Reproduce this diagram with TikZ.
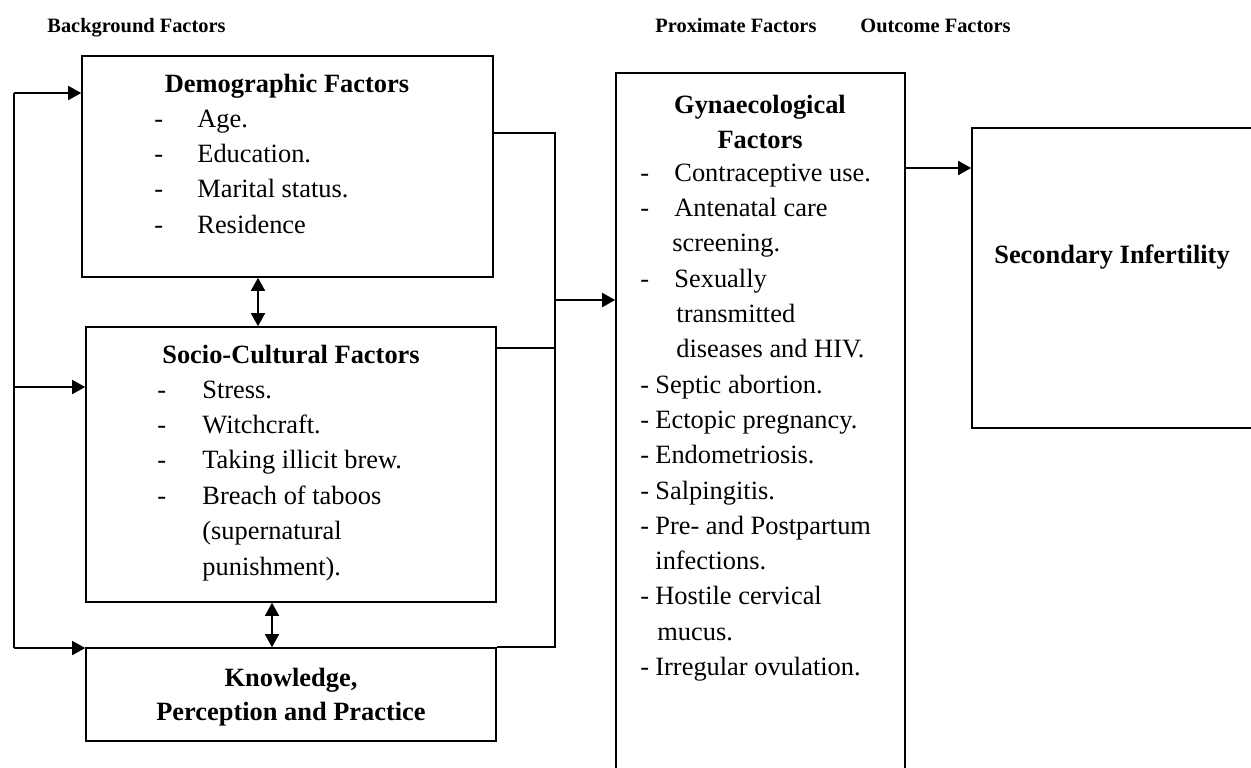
\documentclass[tikz,border=0pt]{standalone}
\usepackage{fontspec}
\setmainfont{Liberation Serif}
\usetikzlibrary{arrows.meta,fit}
\newcommand\bodysize{\fontsize{13.2}{16}\selectfont}
\tikzset{
  box/.style={draw,line width=0.8pt,inner sep=0pt},
  link/.style={line width=0.8pt},
  arr/.style={link,-{Triangle[length=6.5pt,width=7pt]}},
  dbl/.style={link,{Triangle[length=6.5pt,width=7pt]}-{Triangle[length=6.5pt,width=7pt]}},
  head/.style={font=\fontsize{10.2}{12}\selectfont\bfseries,anchor=base west,inner sep=0pt},
  title/.style={font=\bodysize\bfseries,anchor=base,inner sep=0pt},
  item/.style={font=\bodysize,anchor=base west,inner sep=0pt},
}
\begin{document}
\begin{tikzpicture}[x=0.5pt,y=-0.5pt]
\useasboundingbox (0,0) rectangle (1251,767);
\clip (0,0) rectangle (1251,767);
% column headings
\node[head] (hback) at (47,32) {Background Factors};
\node[head] (hprox) at (655,32) {Proximate Factors};
\node[head] (hout) at (860,32) {Outcome Factors};
% boxes
\node[box,fit={(82,56) (493,277)}] (demog) {};
\node[box,fit={(86,327) (496,602)}] (socio) {};
\node[box,fit={(86,648) (496,741)}] (know) {};
\node[box,fit={(616,73) (905,790)}] (gyn) {};
\node[box,fit={(972,128) (1262,428)}] (infert) {};
% demographic factors
\node[title] (demog-title) at (287,92) {Demographic Factors};
\foreach \t [count=\i] in {Age.,Education.,Marital status.,Residence}{
  \node[item] (demog-d\i) at (154,{92+35.3*\i}) {-};
  \node[item] (demog-t\i) at (197,{92+35.3*\i}) {\t};
}
% socio-cultural factors
\node[title] (socio-title) at (291,363) {Socio-Cultural Factors};
\foreach \t [count=\i] in {Stress.,Witchcraft.,Taking illicit brew.,Breach of taboos}{
  \node[item] (socio-d\i) at (157,{363+35.3*\i}) {-};
  \node[item] (socio-t\i) at (202,{363+35.3*\i}) {\t};
}
\node[item] (socio-t5) at (202,539) {(supernatural};
\node[item] (socio-t6) at (202,575) {punishment).};
% knowledge
\node[title] (know-t1) at (291,686) {Knowledge,};
\node[title] (know-t2) at (291,720) {Perception and Practice};
% gynaecological factors
\node[title] (gyn-t1) at (760,113) {Gynaecological};
\node[title] (gyn-t2) at (760,148) {Factors};
\foreach \x/\d/\t [count=\i] in {674/-/Contraceptive use.,674/-/Antenatal care,
    672//screening.,674/-/Sexually,676//transmitted,676//diseases and HIV.,
    655/-/Septic abortion.,655/-/Ectopic pregnancy.,655/-/Endometriosis.,
    655/-/Salpingitis.,655/-/Pre- and Postpartum,655//infections.,
    655/-/Hostile cervical,657//mucus.,655/-/Irregular ovulation.}{
  \node[item] (gyn-d\i) at (640,{146+35.3*\i}) {\d};
  \node[item] (gyn-i\i) at (\x,{146+35.3*\i}) {\t};
}
% outcome
\node[title] (infert-t) at (1112,263) {Secondary Infertility};
% connectors on the left
\coordinate (ltop) at (14,93);
\coordinate (lmid) at (14,387);
\coordinate (lbot) at (14,648);
\draw[link] (ltop) -- (lbot);
\draw[arr] (ltop) -- (ltop -| demog.west);
\draw[arr] (lmid) -- (lmid -| socio.west);
\draw[arr] (lbot) -- (lbot -| know.west);
\draw[dbl] (demog.south -| 258,0) -- (socio.north -| 258,0);
\draw[dbl] (socio.south -| 272,0) -- (know.north -| 272,0);
% connectors on the right
\coordinate (btop) at (555,133);
\coordinate (bmid) at (555,348);
\coordinate (bout) at (555,300);
\draw[link] (demog.east |- btop) -- (btop) |- (know.north east);
\draw[link] (socio.east |- bmid) -- (bmid);
\draw[arr] (bout) -- (bout -| gyn.west);
\coordinate (gout) at (905,168);
\draw[arr] (gout) -- (gout -| infert.west);
\end{tikzpicture}
\end{document}
